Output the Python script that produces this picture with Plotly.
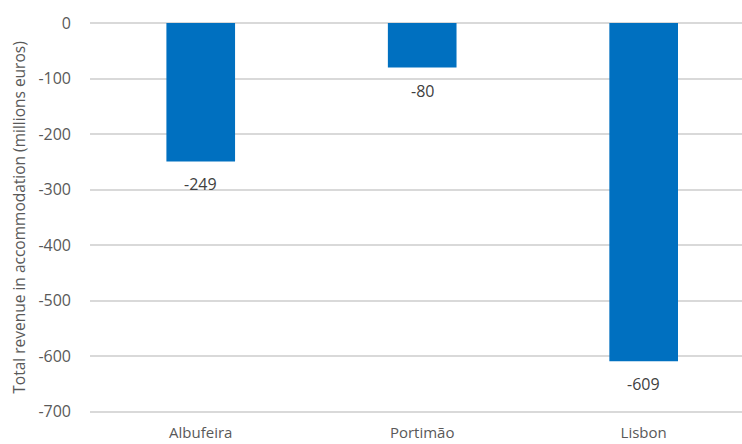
import plotly.graph_objects as go

cities = ["Albufeira", "Portimão", "Lisbon"]
revenue_change = [-249, -80, -609]
y_ticks = [0, -100, -200, -300, -400, -500, -600, -700]
y_tick_labels = ["0", "-100", "-200", "-300", "-400", "-500", "-600", "-700"]

bar_color = "#0070C0"
text_color = "#595959"
font_family = "Open Sans, Lato, sans-serif"

fig = go.Figure(
    go.Bar(
        x=cities,
        y=revenue_change,
        marker=dict(color=bar_color, line=dict(width=0)),
        width=0.31,
        hoverinfo="x+y",
    )
)

# value labels placed just beneath each bar's end
for city, val in zip(cities, revenue_change):
    fig.add_annotation(
        x=city, y=val, text=str(val), showarrow=False,
        yanchor="middle", yshift=-23,
        font=dict(family=font_family, size=16, color="#404040"),
    )

fig.update_layout(
    width=742, height=444,
    margin=dict(l=90, r=0, t=22, b=31),
    paper_bgcolor="white", plot_bgcolor="white",
    showlegend=False,
    font=dict(family=font_family, size=15, color=text_color),
    xaxis=dict(
        range=[-0.5, 2.444], automargin=False,
        showgrid=False, showline=False, zeroline=False,
        ticks="", ticklabelstandoff=9,
        tickfont=dict(size=15, color=text_color),
    ),
    yaxis=dict(
        range=[-702, 2], automargin=False,
        tickvals=y_ticks, ticktext=y_tick_labels,
        showgrid=True, gridcolor="#D9D9D9", gridwidth=1.5,
        zeroline=False, showline=False, ticks="",
        ticklabelstandoff=18,
        tickfont=dict(size=16, color=text_color),
        title=dict(
            text="Total revenue in accommodation (millions euros)",
            font=dict(size=15.5, color=text_color),
            standoff=8,
        ),
    ),
)

fig.write_html("out.html")
